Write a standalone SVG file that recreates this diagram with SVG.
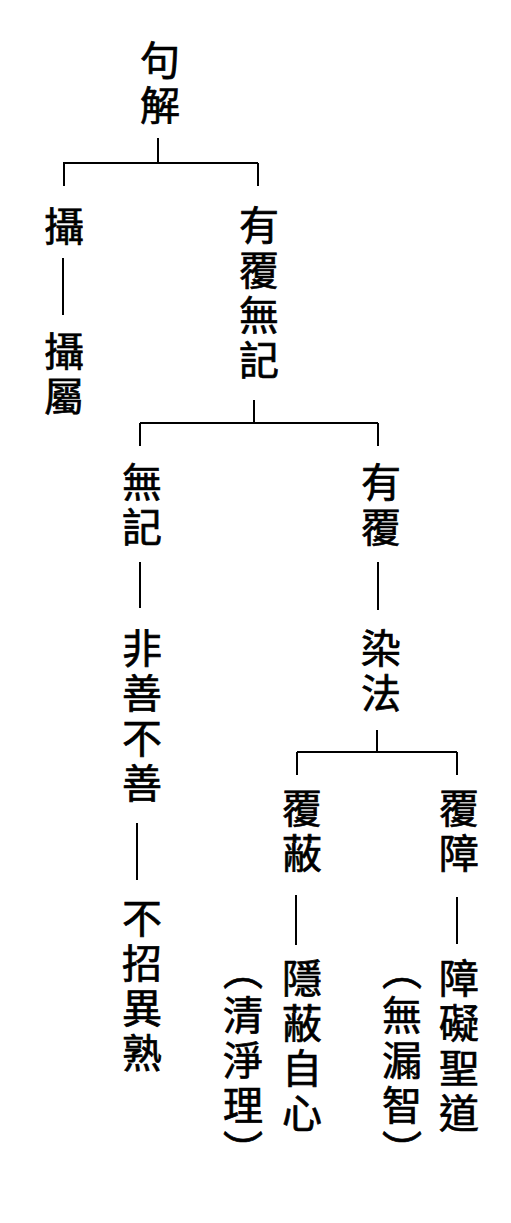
<svg xmlns="http://www.w3.org/2000/svg" width="511" height="1223" viewBox="0 0 511 1223">
<style>
.t{font-family:"Noto Sans CJK TC","Noto Sans CJK SC",sans-serif;font-size:40px;fill:#000;stroke:#000;stroke-width:0.7px;writing-mode:vertical-rl;letter-spacing:5px;font-feature-settings:"vert" 1;}
.c{fill:none;stroke:#000;stroke-width:2;}
</style>
<rect width="511" height="1223" fill="#fff"/>
<g id="connectors">
<path class="c" d="M158,138V163M63,163H258M64,163V186M258,163V186"/>
<path class="c" d="M63,258V315"/>
<path class="c" d="M254,400V423M140,423H378M140,423V446M378,423V446"/>
<path class="c" d="M140,562V608"/>
<path class="c" d="M378,562V610"/>
<path class="c" d="M137,823V880"/>
<path class="c" d="M377,730V752M297,752H457M297,752V775M457,752V775"/>
<path class="c" d="M296,895V945"/>
<path class="c" d="M457,897V944"/>
</g>
<g id="n-root"><text class="t" x="160" y="40">句解</text></g>
<g id="n-she"><text class="t" x="64" y="206">攝</text></g>
<g id="n-shezhu"><text class="t" x="64" y="331">攝屬</text></g>
<g id="n-youfuwuji"><text class="t" x="259" y="205">有覆無記</text></g>
<g id="n-wuji"><text class="t" x="142" y="462">無記</text></g>
<g id="n-feishan"><text class="t" x="142" y="628">非善不善</text></g>
<g id="n-buzhao"><text class="t" x="142" y="898">不招異熟</text></g>
<g id="n-youfu"><text class="t" x="381" y="462">有覆</text></g>
<g id="n-ranfa"><text class="t" x="381" y="628">染法</text></g>
<g id="n-fubi"><text class="t" x="302" y="788">覆蔽</text></g>
<g id="n-yinbi"><text class="t" x="302" y="958">隱蔽自心</text></g>
<g id="n-qingjing"><text class="t" x="243" y="950">（清淨理）</text></g>
<g id="n-fuzhang"><text class="t" x="459" y="788">覆障</text></g>
<g id="n-zhangai"><text class="t" x="459" y="958">障礙聖道</text></g>
<g id="n-wulou"><text class="t" x="402" y="950">（無漏智）</text></g>
</svg>
